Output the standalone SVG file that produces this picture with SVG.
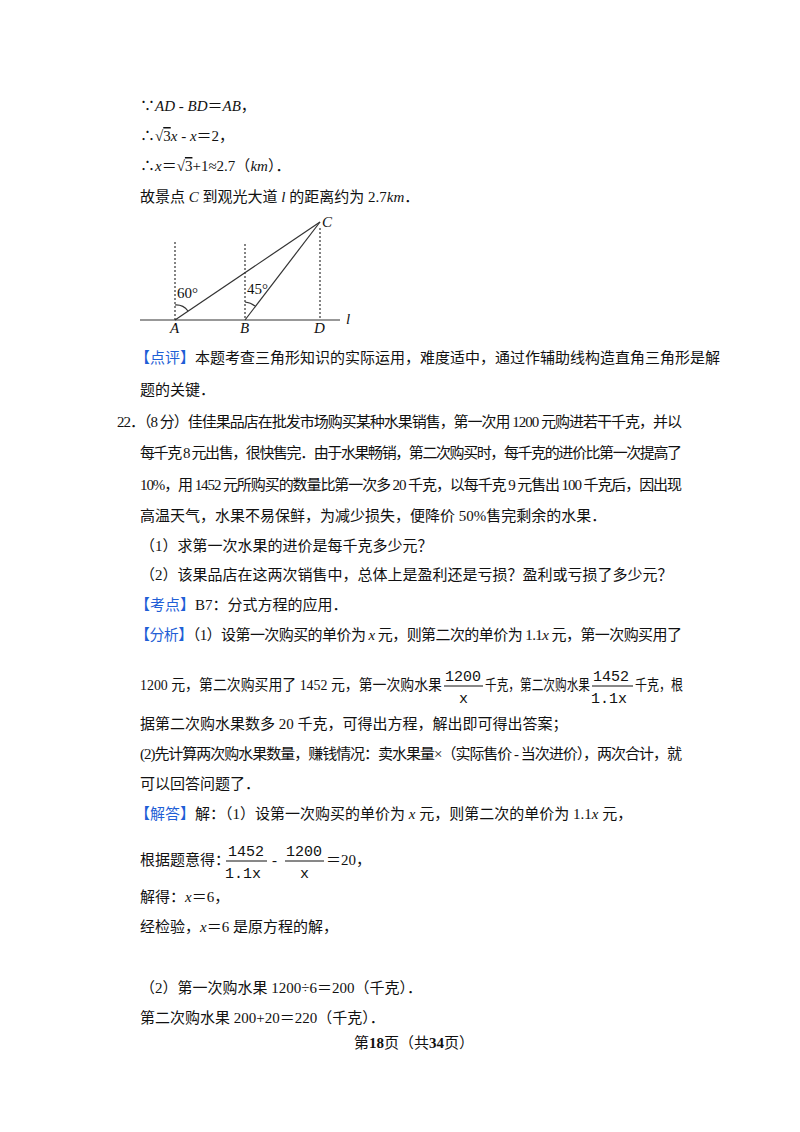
<svg xmlns="http://www.w3.org/2000/svg" width="800" height="1132" viewBox="0 0 800 1132">
<style>
text{font-family:"Liberation Serif","Noto Sans CJK SC",serif;font-size:15px;fill:#111}
.b{fill:#1f5fd6}
.i{font-style:italic}
.f{font-family:"Liberation Mono","Noto Sans CJK SC",monospace;font-size:15px}
.ln{stroke:#333;stroke-width:1.2;fill:none}
.dt{stroke:#333;stroke-width:1.2;stroke-dasharray:2,2;fill:none}
</style>
<rect width="800" height="1132" fill="#fff"/>
<text x="140" y="111">∵<tspan class="i">AD</tspan> - <tspan class="i">BD</tspan>＝<tspan class="i">AB</tspan>，</text>
<text x="140" y="141">∴√<tspan text-decoration="overline">3</tspan><tspan class="i">x</tspan> - <tspan class="i">x</tspan>＝2，</text>
<text x="140" y="171">∴<tspan class="i">x</tspan>＝√<tspan text-decoration="overline">3</tspan>+1≈2.7（<tspan class="i">km</tspan>）．</text>
<text x="140" y="202">故景点 <tspan class="i">C</tspan> 到观光大道 <tspan class="i">l</tspan> 的距离约为 2.7<tspan class="i">km</tspan>．</text>
<g id="figure">
<line class="ln" x1="140" y1="320" x2="340" y2="320" stroke-width="2"/>
<line class="dt" x1="175" y1="242" x2="175" y2="320"/>
<line class="dt" x1="245" y1="244" x2="245" y2="320"/>
<line class="dt" x1="320" y1="228" x2="320" y2="320" stroke-dasharray="4,3"/>
<line class="ln" x1="175" y1="320" x2="320" y2="222"/>
<line class="ln" x1="245" y1="320" x2="320" y2="222"/>
<path class="ln" d="M175,305 A15,15 0 0 1 188,311"/>
<path class="ln" d="M245,302 A18,18 0 0 1 255,306"/>
<text x="177" y="298" font-size="13">60°</text>
<text x="247" y="294" font-size="13">45°</text>
<text x="322" y="227" class="i" font-size="13">C</text>
<text x="170" y="333" class="i" font-size="13">A</text>
<text x="240" y="333" class="i" font-size="13">B</text>
<text x="314" y="333" class="i" font-size="13">D</text>
<text x="346" y="324" class="i" font-size="13">l</text>
</g>
<text x="135" y="363"><tspan class="b">【点评】</tspan>本题考查三角形知识的实际运用，难度适中，通过作辅助线构造直角三角形是解</text>
<text x="140" y="395">题的关键．</text>
<text x="117" y="427" textLength="565" lengthAdjust="spacing">22．（8 分）佳佳果品店在批发市场购买某种水果销售，第一次用 1200 元购进若干千克，并以</text>
<text x="140" y="458" textLength="542" lengthAdjust="spacing">每千克 8 元出售，很快售完．由于水果畅销，第二次购买时，每千克的进价比第一次提高了</text>
<text x="140" y="490" textLength="542" lengthAdjust="spacing">10%，用 1452 元所购买的数量比第一次多 20 千克，以每千克 9 元售出 100 千克后，因出现</text>
<text x="140" y="521">高温天气，水果不易保鲜，为减少损失，便降价 50%售完剩余的水果．</text>
<text x="140" y="551">（1）求第一次水果的进价是每千克多少元？</text>
<text x="140" y="580">（2）该果品店在这两次销售中，总体上是盈利还是亏损？盈利或亏损了多少元？</text>
<text x="135" y="610"><tspan class="b">【考点】</tspan>B7：分式方程的应用．</text>
<text x="135" y="640" textLength="547" lengthAdjust="spacing"><tspan class="b">【分析】</tspan>（1）设第一次购买的单价为 <tspan class="i">x</tspan> 元，则第二次的单价为 1.1<tspan class="i">x</tspan> 元，第一次购买用了</text>
<text x="140" y="690" textLength="302" lengthAdjust="spacingAndGlyphs">1200 元，第二次购买用了 1452 元，第一次购水果</text>
<g id="frac1">
<text class="f" x="445" y="681" font-size="16">1200</text>
<line x1="444" y1="686" x2="483" y2="686" stroke="#111" stroke-width="1"/>
<text class="f" x="459" y="703" font-size="14">x</text>
</g>
<text x="485" y="690" textLength="105" lengthAdjust="spacingAndGlyphs">千克，第二次购水果</text>
<g id="frac2">
<text class="f" x="593" y="681" font-size="16">1452</text>
<line x1="592" y1="686" x2="633" y2="686" stroke="#111" stroke-width="1"/>
<text class="f" x="591" y="703" font-size="16">1.1x</text>
</g>
<text x="635" y="690" textLength="48" lengthAdjust="spacingAndGlyphs">千克，根</text>
<text x="140" y="729">据第二次购水果数多 20 千克，可得出方程，解出即可得出答案；</text>
<text x="140" y="759" textLength="542" lengthAdjust="spacing">(2)先计算两次购水果数量，赚钱情况：卖水果量×（实际售价 - 当次进价），两次合计，就</text>
<text x="140" y="789">可以回答问题了．</text>
<text x="135" y="819"><tspan class="b">【解答】</tspan>解：（1）设第一次购买的单价为 <tspan class="i">x</tspan> 元，则第二次的单价为 1.1<tspan class="i">x</tspan> 元，</text>
<text x="140" y="865">根据题意得：</text>
<g id="frac3">
<text class="f" x="228" y="856" font-size="16">1452</text>
<line x1="226" y1="861" x2="267" y2="861" stroke="#111" stroke-width="1"/>
<text class="f" x="225" y="878" font-size="16">1.1x</text>
</g>
<text x="272" y="865">-</text>
<g id="frac4">
<text class="f" x="286" y="856" font-size="16">1200</text>
<line x1="285" y1="861" x2="324" y2="861" stroke="#111" stroke-width="1"/>
<text class="f" x="300" y="878" font-size="14">x</text>
</g>
<text x="326" y="865">＝20，</text>
<text x="140" y="902">解得：<tspan class="i">x</tspan>＝6，</text>
<text x="140" y="932">经检验，<tspan class="i">x</tspan>＝6 是原方程的解，</text>
<text x="140" y="993">（2）第一次购水果 1200÷6＝200（千克）．</text>
<text x="140" y="1023">第二次购水果 200+20＝220（千克）．</text>
<text x="354" y="1048" font-size="13">第<tspan font-weight="bold" font-size="15">18</tspan>页（共<tspan font-weight="bold" font-size="15">34</tspan>页）</text>
</svg>
